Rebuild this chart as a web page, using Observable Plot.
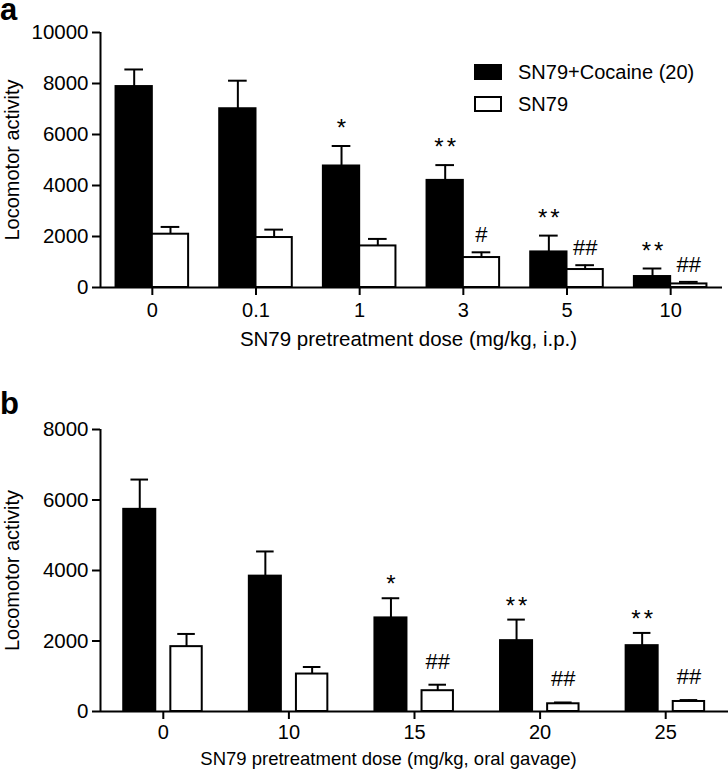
<!DOCTYPE html>
<html><head><meta charset="utf-8">
<script src="https://cdn.jsdelivr.net/npm/d3@7"></script>
<script src="https://cdn.jsdelivr.net/npm/@observablehq/plot@0.6"></script>
<style>
body{margin:0;background:#fff;}
#wrap{position:relative;width:728px;height:772px;font-family:"Liberation Sans",Arial,sans-serif;color:#000;overflow:hidden;}
.letter{position:absolute;left:0;font-weight:bold;font-size:31px;line-height:20px;}
.sw{position:absolute;left:474px;width:24px;height:12px;border:2px solid #000;}
.lt{position:absolute;left:518px;font-size:20px;line-height:20px;white-space:nowrap;}
#pa{position:absolute;left:0;top:0;}
#pb{position:absolute;left:0;top:370px;}
.stars text{letter-spacing:3px;}
</style></head><body>
<div id="wrap">
  <div id="pa"></div>
  <div id="pb"></div>
  <div class="letter" style="top:0px">a</div>
  <div class="letter" style="top:394px">b</div>
  <div class="sw" style="top:64px;background:#000"></div>
  <div class="lt" style="top:62px">SN79+Cocaine (20)</div>
  <div class="sw" style="top:96px;background:#fff"></div>
  <div class="lt" style="top:94px">SN79</div>
</div>
<script>
// Panel a: i.p. pretreatment
const dosesA = ["0", "0.1", "1", "3", "5", "10"];
const cocA = [7880, 7010, 4765, 4200, 1395, 430];
const cocErrA = [670, 1100, 785, 600, 640, 315];
const snA = [2090, 1960, 1630, 1175, 705, 140];
const snErrA = [285, 310, 275, 205, 170, 80];
const sigCocA = ["", "", "*", "**", "**", "**"];
const sigSnA = ["", "", "", "#", "##", "##"];
const yTicksA = [0, 2000, 4000, 6000, 8000, 10000];

// Panel b: oral gavage pretreatment
const dosesB = ["0", "10", "15", "20", "25"];
const cocB = [5735, 3840, 2655, 2010, 1868];
const cocErrB = [845, 700, 558, 597, 361];
const snB = [1840, 1063, 590, 219, 284];
const snErrB = [360, 199, 170, 37, 40];
const sigCocB = ["", "", "*", "**", "**"];
const sigSnB = ["", "", "##", "##", "##"];
const yTicksB = [0, 2000, 4000, 6000, 8000];

const yLabel = "Locomotor activity";
const xLabelA = "SN79 pretreatment dose (mg/kg, i.p.)";
const xLabelB = "SN79 pretreatment dose (mg/kg, oral gavage)";

const FONT = "'Liberation Sans', Arial, Helvetica, sans-serif";

function panel(cfg) {
  const rows = cfg.doses.map((d, i) => ({
    i, dose: d,
    coc: cfg.coc[i], cocTop: cfg.coc[i] + cfg.cocErr[i],
    sn: cfg.sn[i], snTop: cfg.sn[i] + cfg.snErr[i],
    sigC: cfg.sigC[i], sigS: cfg.sigS[i]
  }));
  const [c1, c2] = cfg.cocSpan, [s1, s2] = cfg.snSpan;
  const cc = (c1 + c2) / 2, sc = (s1 + s2) / 2, cap = cfg.cap;
  const n = cfg.doses.length;
  const yMax = cfg.yTicks[cfg.yTicks.length - 1];
  return Plot.plot({
    width: 728,
    height: cfg.height,
    marginLeft: 100,
    marginRight: cfg.marginRight,
    marginTop: cfg.marginTop,
    marginBottom: cfg.marginBottom,
    style: {fontFamily: FONT, fontSize: "20px", background: "white", overflow: "visible", color: "black"},
    x: {domain: [-0.5, n - 0.5]},
    y: {domain: [0, yMax]},
    marks: [
      // error bars
      Plot.ruleX(rows, {x: r => r.i + cc, y1: "coc", y2: "cocTop", stroke: "black", strokeWidth: 2}),
      Plot.ruleY(rows, {y: "cocTop", x1: r => r.i + cc - cap, x2: r => r.i + cc + cap, stroke: "black", strokeWidth: 2}),
      Plot.ruleX(rows, {x: r => r.i + sc, y1: "sn", y2: "snTop", stroke: "black", strokeWidth: 2}),
      Plot.ruleY(rows, {y: "snTop", x1: r => r.i + sc - cap, x2: r => r.i + sc + cap, stroke: "black", strokeWidth: 2}),
      // bars
      Plot.rect(rows, {x1: r => r.i + c1, x2: r => r.i + c2, y1: 0, y2: "coc", fill: "black", stroke: "black", strokeWidth: 2}),
      Plot.rect(rows, {x1: r => r.i + s1, x2: r => r.i + s2, y1: 0, y2: "sn", fill: "white", stroke: "black", strokeWidth: 2}),
      // significance marks
      Plot.text(rows, {x: r => r.i + cc, y: "cocTop", text: "sigC", lineAnchor: "bottom", dy: cfg.dyC, dx: 1.5, fontSize: 24, fill: "black", className: "stars"}),
      Plot.text(rows, {x: r => r.i + sc, y: "snTop", text: "sigS", lineAnchor: "bottom", dy: cfg.dyS, fontSize: 22, fill: "black"}),
      // axes
      Plot.axisY({ticks: cfg.yTicks, tickSize: 8, tickPadding: 4, strokeWidth: 2, fontSize: 20.5, label: null, tickFormat: d => String(d)}),
      Plot.axisX({ticks: d3.range(n), tickSize: 8, tickPadding: cfg.xTickPad, strokeWidth: 2, fontSize: 20, label: null, tickFormat: i => cfg.doses[i]}),
      Plot.ruleX([-0.5], {y1: 0, y2: yMax, stroke: "black", strokeWidth: 2}),
      Plot.ruleY([0], {stroke: "black", strokeWidth: 2}),
      // axis labels
      Plot.text([yLabel], {text: d => d, frameAnchor: "left", textAnchor: "middle", rotate: -90, dx: -88, fontSize: 20, fill: "black"}),
      Plot.text([cfg.xLabel], {text: d => d, frameAnchor: "bottom", textAnchor: "middle", lineAnchor: "bottom", dy: cfg.xLabelDy, dx: cfg.xLabelDx, fontSize: cfg.xLabelFont, fill: "black"})
    ]
  });
}

document.getElementById("pa").appendChild(panel({
  doses: dosesA, coc: cocA, cocErr: cocErrA, sn: snA, snErr: snErrA,
  sigC: sigCocA, sigS: sigSnA, yTicks: yTicksA,
  height: 370, marginTop: 32, marginBottom: 83, marginRight: 6,
  cocSpan: [-0.35, 0], snSpan: [0, 0.35], cap: 0.09,
  dyC: -10, dyS: -10, xTickPad: 7,
  xLabel: xLabelA, xLabelDy: 58, xLabelDx: -3, xLabelFont: 20.5
}));

document.getElementById("pb").appendChild(panel({
  doses: dosesB, coc: cocB, cocErr: cocErrB, sn: snB, snErr: snErrB,
  sigC: sigCocB, sigS: sigSnB, yTicks: yTicksB,
  height: 402, marginTop: 59, marginBottom: 61, marginRight: 0,
  cocSpan: [-0.315, -0.06], snSpan: [0.06, 0.31], cap: 0.07,
  dyC: -6, dyS: -16, xTickPad: 5,
  xLabel: xLabelB, xLabelDy: 53, xLabelDx: -26, xLabelFont: 18.5
}));
</script>
</body></html>
